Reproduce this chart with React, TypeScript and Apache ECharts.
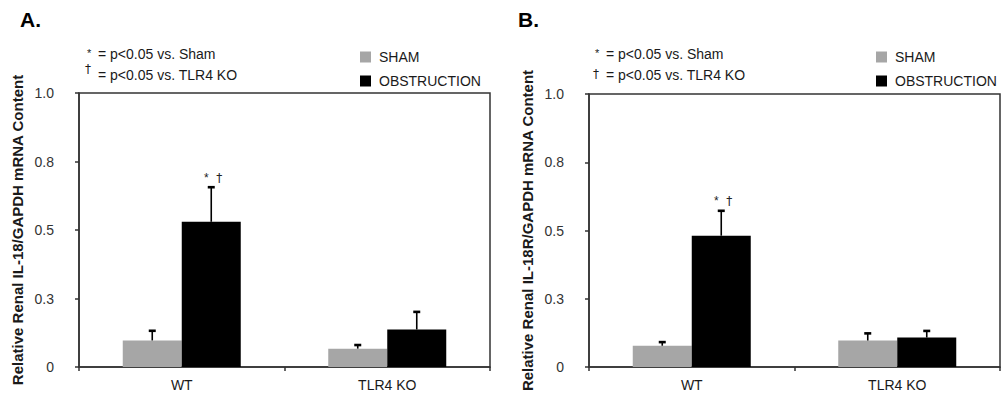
import React, { useEffect, useRef } from "react";
import * as echarts from "echarts";

const categories = ["WT", "TLR4 KO"];
const seriesNames = ["SHAM", "OBSTRUCTION"];
const yTickLabels = ["0", "0.3", "0.5", "0.8", "1.0"];

// Panel A: IL-18
const aSham = [0.097, 0.067];
const aShamErr = [0.037, 0.015];
const aObst = [0.53, 0.137];
const aObstErr = [0.128, 0.066];
const aObstMarks = ["*", ""];
const aShamMarks = ["", ""];

// Panel B: IL-18R
const bSham = [0.078, 0.097];
const bShamErr = [0.015, 0.028];
const bObst = [0.481, 0.108];
const bObstErr = [0.093, 0.026];
const bObstMarks = ["*", ""];
const bShamMarks = ["", ""];

const yTitles = [
  "Relative Renal IL-18/GAPDH mRNA Content",
  "Relative Renal IL-18R/GAPDH mRNA Content",
];

const FONT = "'Liberation Sans', Arial, Helvetica, sans-serif";
const DAGGER_FONT = "'DejaVu Sans', 'Liberation Sans', sans-serif";
const TEXT = "#1a1a1a";
const AXIS = "#333";
const SHAM_COLOR = "#a6a6a6";
const OBST_COLOR = "#000000";
const BAR_W = 59;

function errSeries(
  name: string,
  gridIdx: number,
  means: number[],
  errs: number[],
  marks: string[],
  offset: number
) {
  return {
    type: "custom",
    name: name + "-err",
    xAxisIndex: gridIdx,
    yAxisIndex: gridIdx,
    silent: true,
    z: 5,
    data: means.map((m, i) => [i, m, m + errs[i]]),
    renderItem: (params: any, api: any) => {
      const cat = api.value(0);
      const mean = api.value(1);
      const hi = api.value(2);
      const base = api.coord([cat, mean]);
      const top = api.coord([cat, hi]);
      const x = base[0] + offset;
      const children: any[] = [
        {
          type: "line",
          shape: { x1: x, y1: base[1], x2: x, y2: top[1] },
          style: { stroke: "#000", lineWidth: 1.6 },
        },
        {
          type: "line",
          shape: { x1: x - 3.5, y1: top[1] + 0.5, x2: x + 3.5, y2: top[1] + 0.5 },
          style: { stroke: "#000", lineWidth: 2.6 },
        },
      ];
      const mark = marks[params.dataIndex];
      if (mark) {
        children.push({
          type: "text",
          x: x - 5,
          y: top[1] - 3,
          style: {
            text: "*",
            fill: "#222",
            font: `12px ${FONT}`,
            align: "center",
            verticalAlign: "bottom",
          },
        });
        children.push({
          type: "text",
          x: x + 8,
          y: top[1] - 3,
          style: {
            text: "†",
            fill: "#222",
            font: `12px ${DAGGER_FONT}`,
            align: "center",
            verticalAlign: "bottom",
          },
        });
      }
      return { type: "group", children };
    },
  };
}

function keyTexts(x0: number, raisedDagger: boolean) {
  return [
    {
      type: "text",
      left: x0 + 2,
      top: 47,
      style: { text: "*", fill: TEXT, font: `11px ${FONT}` },
    },
    {
      type: "text",
      left: x0 + 13,
      top: 47,
      style: { text: "= p<0.05 vs. Sham", fill: TEXT, font: `14px ${FONT}` },
    },
    {
      type: "text",
      left: x0,
      top: raisedDagger ? 63 : 68,
      style: { text: "†", fill: TEXT, font: `12px ${DAGGER_FONT}` },
    },
    {
      type: "text",
      left: x0 + 13,
      top: 68,
      style: { text: "= p<0.05 vs. TLR4 KO", fill: TEXT, font: `14px ${FONT}` },
    },
  ];
}

export default function App() {
  const ref = useRef<HTMLDivElement>(null);

  useEffect(() => {
    if (!ref.current) return;
    const chart = echarts.init(ref.current, null, { renderer: "svg" });

    const grids = [
      { left: 79, right: 512, top: 93, bottom: 36 },
      { left: 589, right: 2, top: 94, bottom: 36 },
    ];

    const xAxes = grids.map((_, i) => ({
      type: "category",
      gridIndex: i,
      data: categories,
      axisLine: { lineStyle: { color: AXIS, width: 1.5 } },
      axisTick: { show: true, alignWithLabel: false, length: 4, lineStyle: { color: AXIS, width: 1.5 } },
      axisLabel: { color: TEXT, fontSize: 14, fontFamily: FONT, margin: 11 },
      splitLine: { show: false },
    }));

    const yAxes = grids.map((_, i) => ({
      type: "value",
      gridIndex: i,
      min: 0,
      max: 1,
      interval: 0.25,
      name: yTitles[i],
      nameLocation: "middle",
      nameGap: 54,
      nameTextStyle: { color: TEXT, fontSize: 15, fontWeight: "bold", fontFamily: FONT },
      axisLine: { show: true, lineStyle: { color: AXIS, width: 1.5 } },
      axisTick: { show: true, length: 4, lineStyle: { color: AXIS, width: 1.5 } },
      axisLabel: {
        color: "#333",
        fontSize: 14,
        fontFamily: FONT,
        margin: 25,
        formatter: (v: number) => yTickLabels[Math.round(v / 0.25)] ?? "",
      },
      splitLine: { show: false },
    }));

    const barBase = {
      type: "bar",
      barWidth: BAR_W,
      barGap: "0%",
    };

    const option: any = {
      animation: false,
      backgroundColor: "#fff",
      textStyle: { fontFamily: FONT },
      grid: grids.map((g) => ({
        ...g,
        show: true,
        borderColor: AXIS,
        borderWidth: 1.5,
        backgroundColor: "transparent",
      })),
      xAxis: xAxes,
      yAxis: yAxes,
      legend: [
        { left: 360, top: 50 },
        { left: 876, top: 50 },
      ].map((p) => ({
        ...p,
        padding: 0,
        orient: "vertical",
        data: seriesNames,
        icon: "rect",
        itemWidth: 11,
        itemHeight: 11,
        itemGap: 10,
        selectedMode: false,
        textStyle: { color: TEXT, fontSize: 14, fontFamily: FONT, padding: [0, 0, 0, 3] },
      })),
      graphic: [
        {
          type: "text",
          left: 20,
          top: 9,
          style: { text: "A.", fill: "#000", font: `bold 21px ${FONT}` },
        },
        {
          type: "text",
          left: 518,
          top: 9,
          style: { text: "B.", fill: "#000", font: `bold 21px ${FONT}` },
        },
        ...keyTexts(85, true),
        ...keyTexts(593, false),
      ],
      series: [
        { ...barBase, name: seriesNames[0], xAxisIndex: 0, yAxisIndex: 0, data: aSham, itemStyle: { color: SHAM_COLOR } },
        { ...barBase, name: seriesNames[1], xAxisIndex: 0, yAxisIndex: 0, data: aObst, itemStyle: { color: OBST_COLOR } },
        { ...barBase, name: seriesNames[0], xAxisIndex: 1, yAxisIndex: 1, data: bSham, itemStyle: { color: SHAM_COLOR } },
        { ...barBase, name: seriesNames[1], xAxisIndex: 1, yAxisIndex: 1, data: bObst, itemStyle: { color: OBST_COLOR } },
        errSeries("SHAM-A", 0, aSham, aShamErr, aShamMarks, -BAR_W / 2),
        errSeries("OBST-A", 0, aObst, aObstErr, aObstMarks, BAR_W / 2),
        errSeries("SHAM-B", 1, bSham, bShamErr, bShamMarks, -BAR_W / 2),
        errSeries("OBST-B", 1, bObst, bObstErr, bObstMarks, BAR_W / 2),
      ],
    };

    chart.setOption(option);
    return () => chart.dispose();
  }, []);

  return (
    <div
      ref={ref}
      style={{ position: "absolute", left: 0, top: 0, width: 1002, height: 403 }}
    />
  );
}
